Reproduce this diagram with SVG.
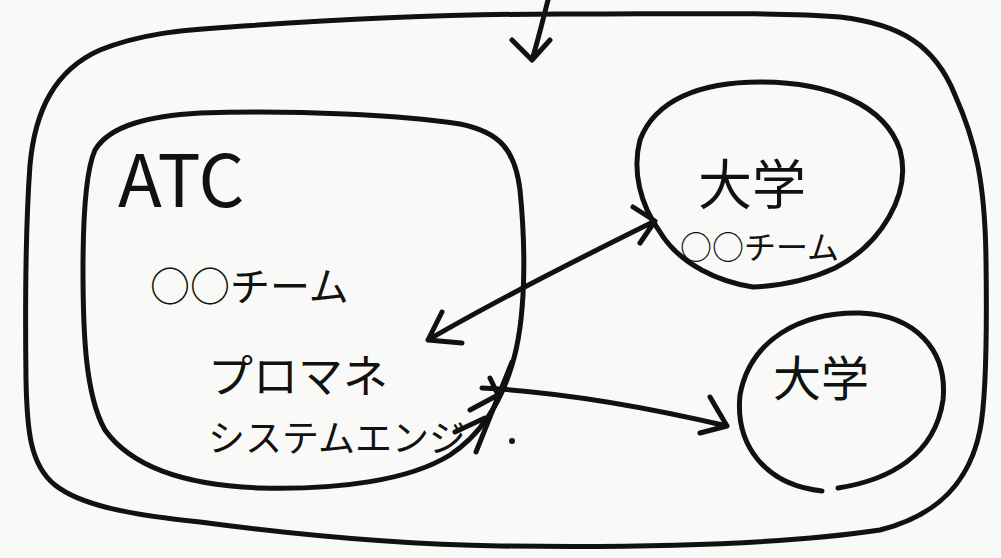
<svg xmlns="http://www.w3.org/2000/svg" width="1001" height="558" viewBox="0 0 1001 558">
<defs>
<style>
.ln{fill:none;stroke:#111;stroke-width:5;stroke-linecap:round;stroke-linejoin:round}
.t{font-family:"Noto Sans CJK JP","Noto Sans",sans-serif;fill:#111}
</style>
</defs>
<rect width="1001" height="558" fill="#f9f9f7"/>
<g id="outer">
<path class="ln" d="M 30,165 C 35,110 55,70 100,50 C 140,34 180,30 230,27 C 330,20 450,14 560,14 C 680,14 780,12 840,17 C 900,24 935,45 955,95 C 975,140 985,180 986,260 C 987,330 986,400 980,430 C 970,480 940,515 880,530 C 780,545 650,548 500,546 C 380,544 260,530 200,522 C 130,515 80,505 55,485 C 30,465 27,430 26,380 C 25,300 26,220 30,165 Z"/>
</g>
<g id="atc">
<path class="ln" d="M 200,113 C 300,110 400,115 460,124 C 500,132 515,150 520,190 C 526,250 526,320 512,365 C 500,405 480,435 450,455 C 410,480 340,490 260,488 C 180,485 130,465 105,430 C 85,395 83,330 83,270 C 83,210 86,170 95,150 C 110,125 150,116 200,113 Z"/>
<text class="t" x="118" y="207" font-size="72" font-family="Liberation Sans,sans-serif">ATC</text>
<text class="t" x="150" y="301" font-size="40">○○チーム</text>
<text class="t" x="208" y="393" font-size="45">プロマネ</text>
<text class="t" x="208" y="452" font-size="37">システムエンジ</text>
<circle cx="512" cy="441" r="3" fill="#111"/>
</g>
<g id="univ1">
<path class="ln" d="M 753,287 C 720,282 680,265 660,232 C 640,205 632,170 640,140 C 655,100 700,82 760,82 C 830,82 885,105 900,150 C 912,195 880,245 835,268 C 805,282 775,286 753,287 Z"/>
<text class="t" x="698" y="205" font-size="54">大学</text>
<text class="t" x="680" y="259" font-size="32">○○チーム</text>
</g>
<g id="univ2">
<path class="ln" d="M 838,488 C 890,480 935,455 943,400 C 948,350 915,315 860,313 C 800,312 750,340 740,395 C 735,445 765,485 822,491"/>
<text class="t" x="773" y="396" font-size="48">大学</text>
</g>
<g id="connectors">
<path class="ln" d="M 548,0 C 543,20 538,40 532,60 M 512,40 L 532,60 L 550,40"/>
<path class="ln" d="M 428,340 C 500,298 580,258 655,221 M 442,312 L 428,340 L 462,343 M 633,207 L 655,221 L 640,243"/>
<path class="ln" d="M 482,388 C 560,392 650,408 727,426 M 710,397 L 727,426 L 700,433"/>
<path class="ln" d="M 512,362 L 476,452 M 470,410 L 498,395 L 490,378 M 455,432 L 485,418"/>
</g>
</svg>
